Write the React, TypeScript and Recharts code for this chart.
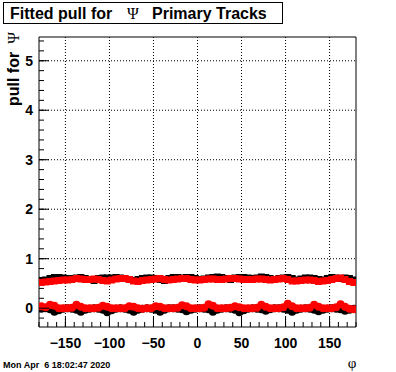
import React from 'react'
import { CartesianGrid, ReferenceArea, Scatter, ScatterChart, XAxis, YAxis } from 'recharts'

// phi bin centres (deg)
const PHI = [
  -177.5, -172.5, -167.5, -162.5, -157.5, -152.5, -147.5, -142.5, -137.5, -132.5, -127.5, -122.5,
  -117.5, -112.5, -107.5, -102.5, -97.5, -92.5, -87.5, -82.5, -77.5, -72.5, -67.5, -62.5,
  -57.5, -52.5, -47.5, -42.5, -37.5, -32.5, -27.5, -22.5, -17.5, -12.5, -7.5, -2.5,
  2.5, 7.5, 12.5, 17.5, 22.5, 27.5, 32.5, 37.5, 42.5, 47.5, 52.5, 57.5,
  62.5, 67.5, 72.5, 77.5, 82.5, 87.5, 92.5, 97.5, 102.5, 107.5, 112.5, 117.5,
  122.5, 127.5, 132.5, 137.5, 142.5, 147.5, 152.5, 157.5, 162.5, 167.5, 172.5, 177.5,
]

// fitted sigma of the pull
const SIGMA_BLACK = [
  0.56, 0.57, 0.6, 0.62, 0.62, 0.61, 0.6, 0.6, 0.61, 0.62, 0.6, 0.58,
  0.56, 0.6, 0.61, 0.61, 0.61, 0.62, 0.61, 0.6, 0.58, 0.56, 0.58, 0.6,
  0.61, 0.61, 0.6, 0.58, 0.56, 0.6, 0.62, 0.62, 0.61, 0.62, 0.62, 0.6,
  0.58, 0.59, 0.61, 0.62, 0.63, 0.62, 0.6, 0.58, 0.61, 0.62, 0.62, 0.61,
  0.6, 0.61, 0.63, 0.62, 0.6, 0.58, 0.6, 0.61, 0.62, 0.6, 0.57, 0.59,
  0.61, 0.61, 0.6, 0.58, 0.57, 0.6, 0.62, 0.61, 0.6, 0.61, 0.6, 0.57,
]
const SIGMA_RED = [
  0.52, 0.53, 0.54, 0.55, 0.56, 0.57, 0.57, 0.58, 0.6, 0.59, 0.58, 0.58,
  0.59, 0.58, 0.56, 0.55, 0.57, 0.59, 0.6, 0.6, 0.58, 0.55, 0.54, 0.56,
  0.57, 0.58, 0.59, 0.6, 0.58, 0.57, 0.58, 0.59, 0.6, 0.6, 0.58, 0.57,
  0.57, 0.58, 0.59, 0.59, 0.58, 0.58, 0.59, 0.6, 0.6, 0.59, 0.58, 0.58,
  0.58, 0.59, 0.59, 0.58, 0.57, 0.58, 0.59, 0.6, 0.58, 0.55, 0.55, 0.56,
  0.57, 0.57, 0.56, 0.54, 0.55, 0.56, 0.58, 0.6, 0.61, 0.58, 0.54, 0.52,
]

// fitted mean of the pull
const MEAN_BLACK = [
  -0.01, 0.0, -0.02, -0.07, -0.04, -0.01, 0.0, -0.01, -0.03, -0.07, -0.03, -0.01,
  0.0, -0.01, -0.03, -0.08, -0.04, -0.01, 0.0, -0.01, -0.03, -0.07, -0.03, -0.01,
  0.0, -0.01, -0.03, -0.07, -0.03, 0.0, 0.0, -0.01, -0.02, -0.06, -0.03, -0.01,
  0.0, -0.01, -0.02, -0.07, -0.03, -0.01, 0.0, -0.01, -0.03, -0.08, -0.04, -0.01,
  0.0, -0.01, -0.02, -0.05, -0.02, 0.0, 0.0, -0.01, -0.03, -0.07, -0.03, -0.01,
  0.0, -0.01, -0.03, -0.06, -0.03, -0.01, 0.0, -0.01, -0.02, -0.05, -0.03, -0.01,
]
const MEAN_RED = [
  0.04, 0.02, 0.07, 0.05, 0.0, 0.0, 0.0, 0.01, 0.07, 0.03, 0.0, 0.0,
  0.0, 0.01, 0.05, 0.03, 0.0, 0.0, 0.0, 0.0, 0.04, 0.03, 0.0, -0.01,
  0.0, 0.0, 0.04, 0.03, 0.0, 0.0, 0.0, 0.01, 0.06, 0.04, 0.0, 0.0,
  0.0, 0.01, 0.08, 0.05, 0.0, 0.0, 0.0, 0.01, 0.04, 0.02, 0.0, 0.0,
  0.0, 0.01, 0.07, 0.03, 0.0, 0.0, 0.0, 0.02, 0.09, 0.04, 0.0, 0.0,
  0.0, 0.01, 0.07, 0.03, 0.0, 0.0, 0.0, 0.02, 0.08, 0.03, -0.01, -0.02,
]

const X_MAJOR = [-150, -100, -50, 0, 50, 100, 150]
const X_TICKS = [
  -180, -170, -160, -150, -140, -130, -120, -110, -100, -90, -80, -70, -60, -50, -40, -30, -20, -10,
  0, 10, 20, 30, 40, 50, 60, 70, 80, 90, 100, 110, 120, 130, 140, 150, 160, 170, 180,
]
const Y_MAJOR = [0, 1, 2, 3, 4, 5]
const Y_TICKS = [
  -0.2, 0, 0.2, 0.4, 0.6, 0.8, 1, 1.2, 1.4, 1.6, 1.8, 2, 2.2, 2.4, 2.6, 2.8, 3, 3.2, 3.4, 3.6, 3.8,
  4, 4.2, 4.4, 4.6, 4.8, 5, 5.2, 5.4,
]

const X_DOMAIN = [-180, 180]
const Y_DOMAIN = [-0.38, 5.48]

const SANS = '"Liberation Sans", Arial, Helvetica, sans-serif'
const SERIF = '"Liberation Serif", "Times New Roman", serif'

const toPoints = (ys: number[]) => PHI.map((phi, i) => ({ phi, v: ys[i] }))

const square = (color: string) => (p: any) => (
  <rect x={p.cx - 3.5} y={p.cy - 3.5} width={7} height={7} fill={color} />
)
const dot = (color: string) => (p: any) => <circle cx={p.cx} cy={p.cy} r={4} fill={color} />

const fmt = (v: number) => String(v).replace('-', '\u2212')

// minor ticks come from the axis (tickSize -5, tickMargin 0); majors get a longer line + label
const XTick = (props: any) => {
  const { x, y, payload } = props
  if (!X_MAJOR.includes(payload.value)) return <g />
  const axisY = y + 5
  return (
    <g>
      <line x1={x} x2={x} y1={axisY} y2={axisY - 10} stroke="#000" />
      <text
        x={x}
        y={axisY + 21}
        textAnchor="middle"
        fontFamily={SANS}
        fontWeight="bold"
        fontSize={14}
        fill="#000"
      >
        {fmt(payload.value)}
      </text>
    </g>
  )
}

const YTick = (props: any) => {
  const { x, y, payload } = props
  if (!Y_MAJOR.includes(payload.value)) return <g />
  const axisX = x - 5
  return (
    <g>
      <line x1={axisX} x2={axisX + 10} y1={y} y2={y} stroke="#000" />
      <text
        x={axisX - 6}
        y={y + 5}
        textAnchor="end"
        fontFamily={SANS}
        fontWeight="bold"
        fontSize={14}
        fill="#000"
      >
        {fmt(payload.value)}
      </text>
    </g>
  )
}

export default function App() {
  return (
    <div
      style={{ position: 'absolute', left: 0, top: 0, width: 396, height: 372, background: '#fff' }}
    >
      <ScatterChart width={396} height={372} margin={{ top: 37, right: 40, bottom: 0, left: 0 }}>
        <XAxis
          dataKey="phi"
          type="number"
          domain={X_DOMAIN}
          allowDataOverflow
          ticks={X_TICKS}
          interval={0}
          height={45}
          tickSize={-5}
          tickMargin={0}
          tick={<XTick />}
          axisLine={false}
          tickLine={{ stroke: '#000' }}
        />
        <YAxis
          dataKey="v"
          type="number"
          domain={Y_DOMAIN}
          allowDataOverflow
          ticks={Y_TICKS}
          interval={0}
          width={39}
          tickSize={-5}
          tickMargin={0}
          tick={<YTick />}
          axisLine={false}
          tickLine={{ stroke: '#000' }}
        />
        <CartesianGrid
          stroke="#000"
          strokeDasharray="1 2"
          horizontalValues={Y_MAJOR}
          verticalValues={X_MAJOR}
        />
        <Scatter data={toPoints(SIGMA_BLACK)} shape={square('#000')} isAnimationActive={false} />
        <Scatter data={toPoints(MEAN_BLACK)} shape={dot('#000')} isAnimationActive={false} />
        <Scatter data={toPoints(SIGMA_RED)} shape={square('#f00')} isAnimationActive={false} />
        <Scatter data={toPoints(MEAN_RED)} shape={dot('#f00')} isAnimationActive={false} />
        <ReferenceArea
          x1={X_DOMAIN[0]}
          x2={X_DOMAIN[1]}
          y1={Y_DOMAIN[0]}
          y2={Y_DOMAIN[1]}
          fill="none"
          stroke="#000"
          strokeWidth={1}
          ifOverflow="visible"
        />
      </ScatterChart>
      <svg
        width={396}
        height={372}
        style={{ position: 'absolute', left: 0, top: 0, pointerEvents: 'none' }}
      >
        <rect x={3.5} y={2.5} width={279} height={21} fill="#fff" stroke="#000" />
        <text x={10} y={19} fontFamily={SANS} fontWeight="bold" fontSize={16} fill="#000">
          Fitted pull for
        </text>
        <text x={127} y={19} fontFamily={SERIF} fontSize={16} fill="#000">
          Ψ
        </text>
        <text x={152} y={19} fontFamily={SANS} fontWeight="bold" fontSize={16} fill="#000">
          Primary Tracks
        </text>
        <text
          transform="translate(19, 32) rotate(-90)"
          textAnchor="end"
          fontSize={16}
          fill="#000"
        >
          <tspan fontFamily={SANS} fontWeight="bold">
            pull for
          </tspan>
          <tspan fontFamily={SERIF} dx={8}>
            Ψ
          </tspan>
        </text>
        <text x={352} y={368} textAnchor="middle" fontFamily={SERIF} fontSize={15} fill="#000">
          φ
        </text>
        <text
          x={3}
          y={368}
          fontFamily={SANS}
          fontWeight="bold"
          fontSize={9}
          fill="#000"
          style={{ whiteSpace: 'pre' }}
        >
          {'Mon Apr  6 18:02:47 2020'}
        </text>
      </svg>
    </div>
  )
}
